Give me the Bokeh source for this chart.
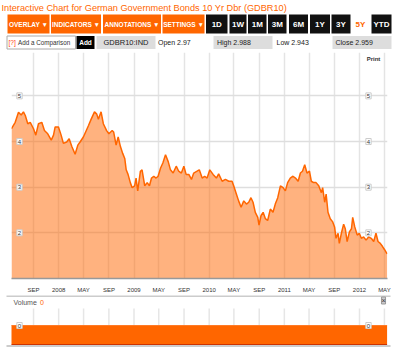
import pandas as pd
from bokeh.plotting import figure
from bokeh.layouts import column
from bokeh.models import Range1d, FixedTicker, Label
from bokeh.core.properties import value
from bokeh.embed import file_html
from bokeh.resources import INLINE

# ---------------- data ----------------
title_text = "Interactive Chart for German Government Bonds 10 Yr Dbr (GDBR10)"
menu_buttons = ["OVERLAY \u25BC", "INDICATORS \u25BC", "ANNOTATIONS \u25BC", "SETTINGS \u25BC"]
period_buttons = ["1D", "1W", "1M", "3M", "6M", "1Y", "3Y", "5Y", "YTD"]
active_period = "5Y"
symbol = "GDBR10:IND"
open_v, high_v, low_v, close_v = 2.97, 2.988, 2.943, 2.959

dates = [
    "2007-05-17", "2007-06-04", "2007-06-20", "2007-07-03", "2007-07-14", "2007-07-23", "2007-08-04",
    "2007-08-16", "2007-09-01", "2007-09-12", "2007-09-25", "2007-10-11", "2007-10-24", "2007-11-09",
    "2007-11-26", "2007-12-07", "2007-12-15", "2007-12-31",
    "2008-01-13", "2008-01-24", "2008-02-09", "2008-02-21", "2008-03-05", "2008-03-21", "2008-04-03",
    "2008-04-14", "2008-04-30", "2008-05-11", "2008-05-25", "2008-06-07", "2008-06-23", "2008-07-04",
    "2008-07-12", "2008-07-25", "2008-08-05", "2008-08-21", "2008-09-01", "2008-09-17", "2008-09-24",
    "2008-10-06", "2008-10-16", "2008-10-27", "2008-11-07", "2008-11-17", "2008-11-24", "2008-12-03",
    "2008-12-14", "2008-12-23",
    "2009-01-04", "2009-01-11", "2009-01-19", "2009-02-01", "2009-02-09", "2009-02-22", "2009-03-06",
    "2009-03-17", "2009-03-27", "2009-04-07", "2009-04-18", "2009-04-28", "2009-05-10", "2009-05-21",
    "2009-06-03", "2009-06-16", "2009-06-27", "2009-07-10", "2009-07-25", "2009-08-06", "2009-08-19",
    "2009-08-31", "2009-09-11", "2009-09-24", "2009-10-07", "2009-10-18", "2009-11-03", "2009-11-14",
    "2009-11-28", "2009-12-10", "2009-12-22",
    "2010-01-04", "2010-01-20", "2010-02-05", "2010-02-16", "2010-03-05", "2010-03-21", "2010-04-06",
    "2010-04-22", "2010-04-30", "2010-05-13", "2010-05-24", "2010-06-05", "2010-06-18", "2010-07-01",
    "2010-07-12", "2010-07-23", "2010-08-02", "2010-08-13", "2010-08-25", "2010-08-31", "2010-09-10",
    "2010-09-20", "2010-10-01", "2010-10-12", "2010-10-25", "2010-11-07", "2010-11-18", "2010-11-30",
    "2010-12-13", "2010-12-26",
    "2011-01-06", "2011-01-17", "2011-01-30", "2011-02-12", "2011-02-24", "2011-03-09", "2011-03-20",
    "2011-03-30", "2011-04-10", "2011-04-21", "2011-05-03", "2011-05-12", "2011-05-23", "2011-06-04",
    "2011-06-17", "2011-06-30", "2011-07-06", "2011-07-16", "2011-07-23", "2011-08-01", "2011-08-12",
    "2011-08-24", "2011-09-02", "2011-09-09", "2011-09-19", "2011-09-25", "2011-10-05", "2011-10-16",
    "2011-10-24", "2011-11-02", "2011-11-13", "2011-11-23", "2011-11-29", "2011-12-09", "2011-12-21",
    "2011-12-31",
    "2012-01-10", "2012-01-21", "2012-02-02", "2012-02-14", "2012-02-27", "2012-03-10", "2012-03-21",
    "2012-03-31", "2012-04-11", "2012-04-22", "2012-05-02", "2012-05-14",
]
yields = [
    4.28, 4.42, 4.64, 4.58, 4.65, 4.57, 4.39, 4.42, 4.28, 4.14, 4.39, 4.42, 4.24, 4.17, 4.03, 4.14, 4.32, 4.32,
    4.14, 3.96, 3.99, 4.06, 3.89, 3.72, 3.92, 3.99, 4.10, 4.21, 4.35, 4.49, 4.65, 4.60, 4.49, 4.65, 4.39, 4.24,
    4.17, 4.24, 4.21, 3.92, 4.10, 3.89, 3.74, 3.63, 3.38, 3.28, 3.10, 2.99,
    3.03, 3.20, 2.92, 3.35, 3.38, 3.03, 3.10, 3.03, 3.20, 3.24, 3.20, 3.24, 3.42, 3.53, 3.71, 3.56, 3.38, 3.31,
    3.46, 3.35, 3.31, 3.46, 3.28, 3.28, 3.17, 3.31, 3.35, 3.38, 3.20, 3.24, 3.20,
    3.38, 3.28, 3.20, 3.29, 3.13, 3.17, 3.13, 3.13, 3.03, 2.85, 2.70, 2.56, 2.70, 2.63, 2.67, 2.77, 2.67, 2.45,
    2.34, 2.17, 2.38, 2.45, 2.31, 2.27, 2.52, 2.45, 2.63, 2.77, 3.03, 2.99,
    2.92, 3.10, 3.20, 3.24, 3.20, 3.13, 3.31, 3.35, 3.49, 3.31, 3.35, 3.13, 3.10, 3.10, 3.03, 2.88, 2.99, 2.67,
    2.85, 2.45, 2.31, 2.24, 2.13, 1.88, 1.99, 1.77, 1.99, 2.19, 2.09, 1.81, 2.02, 2.09, 2.34, 2.13, 1.95, 1.99,
    1.88, 1.91, 1.84, 1.91, 1.88, 1.81, 1.99, 1.81, 1.77, 1.70, 1.63, 1.54,
]
volume_dates = ["2007-05-17", "2012-05-14"]
volume_values = [0, 0]

tick_dates = ["2007-09-01", "2008-01-01", "2008-05-01", "2008-09-01", "2009-01-01", "2009-05-01",
              "2009-09-01", "2010-01-01", "2010-05-01", "2010-09-01", "2011-01-01", "2011-05-01",
              "2011-09-01", "2012-01-01", "2012-05-01"]
tick_labels = ["SEP", "2008", "MAY", "SEP", "2009", "MAY", "SEP", "2010", "MAY", "SEP", "2011", "MAY",
               "SEP", "2012", "MAY"]
y_ticks = [2, 3, 4, 5]
x_first, x_last = "2007-05-17", "2012-05-16"
y_low, y_high = 1.0, 5.95

# ---------------- style ----------------
ORANGE = "#FF6600"
FONT = "Liberation Sans"
W = 400

def to_ms(s):
    return int(pd.Timestamp(s).value // 10**6)

dt = pd.to_datetime(dates)
tick_ms = [to_ms(d) for d in tick_dates]

# ---------------- header ----------------
h = figure(width=W, height=50, x_range=Range1d(0, W), y_range=Range1d(50, 0),
           min_border_left=0, min_border_right=0, min_border_top=0, min_border_bottom=0,
           toolbar_location=None, output_backend="svg",
           x_axis_location=None, y_axis_location=None)
h.frame_align = False
h.outline_line_color = None
h.grid.visible = False

h.text(x=[1], y=[7], text=[title_text], text_font=value(FONT), text_font_size="9.2px",
       text_color=ORANGE, text_baseline="middle")

menu_left = [7, 50.5, 102.5, 162]
menu_right = [49, 100.5, 160.5, 204]
h.quad(left=menu_left, right=menu_right, top=14, bottom=33, fill_color=ORANGE, line_color=None)
h.text(x=[(a + b) / 2 for a, b in zip(menu_left, menu_right)], y=23.5, text=menu_buttons,
       text_font=value(FONT), text_font_size="6.5px", text_font_style="bold", text_color="white",
       text_align="center", text_baseline="middle")

period_left = [205.5, 229, 247.5, 267.5, 288.5, 309.5, 331, 353, 371]
period_right = [227, 246, 266, 286, 307.5, 329.5, 350, 367, 391]
for lab, a, b in zip(period_buttons, period_left, period_right):
    active = lab == active_period
    if not active:
        h.quad(left=[a], right=[b], top=14, bottom=33, fill_color="#111111", line_color=None)
    h.text(x=[(a + b) / 2], y=[23.5], text=[lab], text_font=value(FONT), text_font_size="8px",
           text_font_style="bold", text_color=ORANGE if active else "white",
           text_align="center", text_baseline="middle")

# second row
h.quad(left=[6.5], right=[75], top=35.5, bottom=48.5, fill_color="white", line_color="#aaaaaa")
h.text(x=[8], y=[42], text=["[?]"], text_font=value(FONT), text_font_size="6.5px",
       text_color="#FF3300", text_baseline="middle")
h.text(x=[17.5], y=[42], text=["Add a Comparison"], text_font=value(FONT), text_font_size="6.3px",
       text_color="#333333", text_baseline="middle")
h.quad(left=[76], right=[94], top=35.5, bottom=48.5, fill_color="#000000", line_color=None)
h.text(x=[85], y=[42], text=["Add"], text_font=value(FONT), text_font_size="6.5px",
       text_font_style="bold", text_color="white", text_align="center", text_baseline="middle")
h.quad(left=[96, 213, 332], right=[155, 272, 391], top=35.5, bottom=48.5,
       fill_color="#dddddd", line_color=None)
h.text(x=[125.5], y=[42], text=[symbol], text_font=value(FONT), text_font_size="7.5px",
       text_color="#222222", text_align="center", text_baseline="middle")
h.text(x=[157.5, 216.5, 276, 335], y=42,
       text=[f"Open {open_v}", f"High {high_v}", f"Low {low_v}", f"Close {close_v}"],
       text_font=value(FONT), text_font_size="7px", text_color="#222222", text_baseline="middle")

# ---------------- main price chart ----------------
p = figure(width=W, height=245, x_axis_type="datetime",
           x_range=Range1d(pd.Timestamp(x_first), pd.Timestamp(x_last)),
           y_range=Range1d(y_low, y_high), y_axis_location=None,
           min_border_left=11, min_border_right=13, min_border_top=2, min_border_bottom=13,
           toolbar_location=None, output_backend="svg")
p.frame_align = False
p.outline_line_color = None
p.background_fill_color = "white"
p.xgrid.ticker = FixedTicker(ticks=tick_ms)
p.ygrid.ticker = FixedTicker(ticks=y_ticks)
p.xgrid.grid_line_color = "#e4e4e4"
p.xgrid.grid_line_width = 1.5
p.ygrid.grid_line_color = "#dedede"
p.ygrid.grid_line_width = 1.5

ax = p.xaxis[0]
ax.ticker = FixedTicker(ticks=tick_ms)
ax.major_label_overrides = dict(zip(tick_ms, tick_labels))
ax.major_tick_line_color = None
ax.minor_tick_line_color = None
ax.axis_line_color = "#999999"
ax.axis_line_width = 1.5
ax.major_label_standoff = 2
ax.major_label_text_font = FONT
ax.major_label_text_font_size = "6px"
ax.major_label_text_color = "#333333"

p.varea(x=dt, y1=0, y2=yields, fill_color=ORANGE, fill_alpha=0.5)
p.line(dt, yields, line_color=ORANGE, line_width=1.5)

for yv in y_ticks:
    for sx in (8, 357):
        p.add_layout(Label(x=sx, y=yv, x_units="screen", y_units="data", text=str(yv),
                           text_font=FONT, text_font_size="6px", text_color="#333333",
                           text_align="center", text_baseline="middle",
                           background_fill_color="white", border_line_color="#cccccc",
                           padding=1))
p.add_layout(Label(x=362, y=220, x_units="screen", y_units="screen", text="Print",
                   text_font=FONT, text_font_size="6px", text_font_style="bold",
                   text_color="#333333", text_align="center", text_baseline="middle"))

# ---------------- volume panel ----------------
ms0, ms1 = to_ms(x_first), to_ms(x_last)
px = (ms1 - ms0) / 376.0
v_start, v_end = ms0 - 11 * px, ms1 + 13 * px
def vx(pix):
    return v_start + pix * (v_end - v_start) / W

v = figure(width=W, height=57, x_range=Range1d(v_start, v_end), y_range=Range1d(-2.7, 3.0),
           min_border_left=0, min_border_right=0, min_border_top=0, min_border_bottom=0,
           x_axis_location=None, y_axis_location=None, toolbar_location=None, output_backend="svg")
v.frame_align = False
v.outline_line_color = None
v.grid.visible = False

vdt = pd.to_datetime(volume_dates)
tdt = pd.to_datetime(tick_dates)
v.segment(x0=tdt, x1=tdt, y0=0, y1=1.7, line_color="#e6e6e6", line_width=1.5)
v.segment(x0=[vx(6), vx(6)], x1=[vx(390), vx(390)], y0=[2.95, -2.05], y1=[2.95, -2.05],
          line_color="#999999", line_width=1.2)
v.varea(x=vdt, y1=-1.9, y2=volume_values, fill_color=ORANGE)
v.line(vdt, volume_values, line_color="#FF7a26", line_width=1)
v.segment(x0=[vdt[0]], x1=[vdt[-1]], y0=[-1.9], y1=[-1.9], line_color="#CC3300", line_width=1)

for sx in (19, 368):
    v.add_layout(Label(x=sx, y=0, x_units="screen", y_units="data", text=str(volume_values[0]),
                       text_font=FONT, text_font_size="6px", text_color="#333333",
                       text_align="center", text_baseline="middle",
                       background_fill_color="white", border_line_color="#cccccc", padding=1))
v.add_layout(Label(x=13, y=50, x_units="screen", y_units="screen", text="Volume",
                   text_font=FONT, text_font_size="7px", text_color="#555555",
                   text_baseline="middle"))
v.add_layout(Label(x=39.5, y=50, x_units="screen", y_units="screen", text=str(volume_values[-1]),
                   text_font=FONT, text_font_size="7px", text_color=ORANGE,
                   text_baseline="middle"))
v.add_layout(Label(x=383, y=52, x_units="screen", y_units="screen", text="\u00D7",
                   text_font=FONT, text_font_size="7px", text_color="#333333",
                   text_align="center", text_baseline="middle",
                   background_fill_color="#cccccc", border_line_color="#999999", padding=0))

layout = column(h, p, v)
open("out.html", "w").write(file_html(layout, INLINE))
